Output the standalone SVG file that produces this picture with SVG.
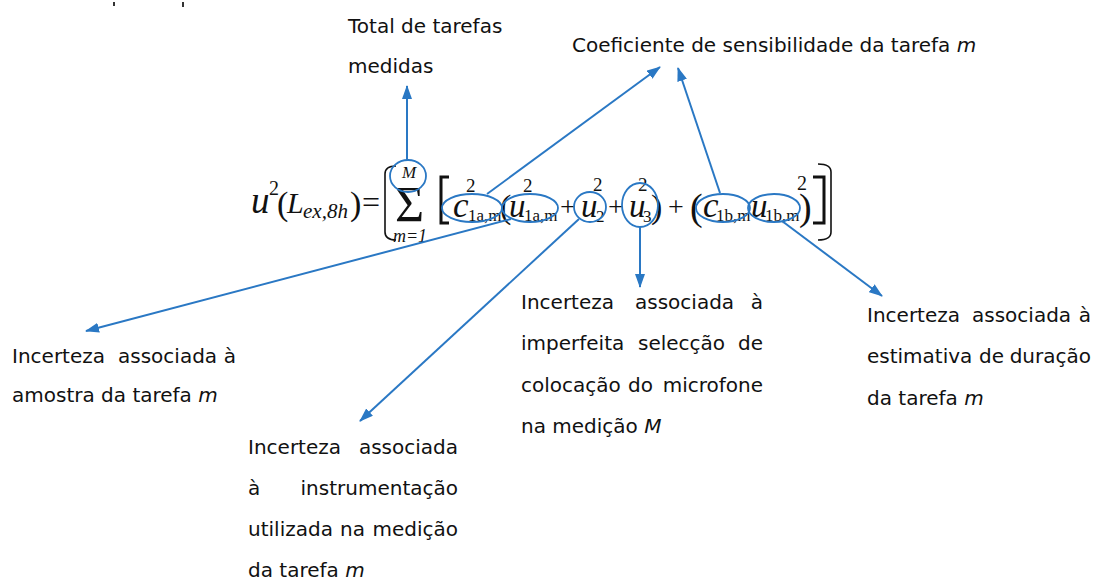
<svg xmlns="http://www.w3.org/2000/svg" width="1094" height="580" viewBox="0 0 1094 580">
<style>
.lbl{font-family:"DejaVu Sans","Verdana",sans-serif;font-size:20px;fill:#111}
.it{font-style:italic}
.m{font-family:"Liberation Serif","Times New Roman",serif;fill:#111}
.mi{font-family:"Liberation Serif","Times New Roman",serif;font-style:italic;fill:#111}
.ring{fill:none;stroke:#2A78C4;stroke-width:1.8}
.br{fill:none;stroke:#111;stroke-width:1.6}
.bk{fill:none;stroke:#111;stroke-width:3}
.con{stroke:#2A78C4;stroke-width:2;fill:none;marker-end:url(#ah)}
</style>
<defs>
<marker id="ah" viewBox="0 0 14 10" refX="13" refY="5" markerWidth="14" markerHeight="10" markerUnits="userSpaceOnUse" orient="auto">
<path d="M0,0 L14,5 L0,10 z" fill="#2A78C4"/>
</marker>
</defs>
<rect width="1094" height="580" fill="#fff"/>
<rect x="113" y="2" width="2" height="4" fill="#333"/>
<rect x="182" y="2" width="2" height="5" fill="#333"/>

<g id="formula">
<text class="mi" x="251" y="213" font-size="37">u</text>
<text class="m" x="269" y="195" font-size="20">2</text>
<text class="m" x="277" y="215" font-size="34">(</text>
<text class="mi" x="287" y="213" font-size="30">L</text>
<text class="mi" x="303" y="218" font-size="21">ex,8h</text>
<text class="m" x="350" y="215" font-size="34">)</text>
<text class="m" x="362" y="213" font-size="32">=</text>
<path class="br" d="M396 166 Q385 166 385 174 L385 232 Q385 240 396 240"/>
<text class="m" x="395" y="221" font-size="50">Σ</text>
<text class="mi" x="409" y="178" font-size="17" text-anchor="middle">M</text>
<text class="mi" x="410" y="242" font-size="18" text-anchor="middle">m=1</text>
<path class="bk" d="M449 177 L441 177 L441 223 L449 223"/>
<text class="mi" x="453" y="217" font-size="35">c</text>
<text class="m" x="468" y="221" font-size="17">1a,m</text>
<text class="m" x="466" y="192" font-size="19">2</text>
<text class="m" x="500" y="218" font-size="34">(</text>
<text class="mi" x="509" y="217" font-size="33">u</text>
<text class="m" x="524" y="221" font-size="17">1a,m</text>
<text class="m" x="523" y="192" font-size="19">2</text>
<text class="m" x="560" y="216" font-size="28">+</text>
<text class="mi" x="581" y="217" font-size="33">u</text>
<text class="m" x="596" y="222" font-size="17">2</text>
<text class="m" x="593" y="191" font-size="19">2</text>
<text class="m" x="608" y="216" font-size="28">+</text>
<text class="mi" x="629" y="217" font-size="33">u</text>
<text class="m" x="643" y="222" font-size="17">3</text>
<text class="m" x="638" y="191" font-size="19">2</text>
<text class="m" x="651" y="218" font-size="34">)</text>
<text class="m" x="668" y="216" font-size="28">+</text>
<text class="m" x="690" y="220" font-size="38">(</text>
<text class="mi" x="703" y="217" font-size="35">c</text>
<text class="m" x="716" y="221" font-size="17">1b,m</text>
<text class="mi" x="751" y="217" font-size="33">u</text>
<text class="m" x="765" y="221" font-size="17">1b,m</text>
<text class="m" x="799" y="220" font-size="38">)</text>
<text class="m" x="797" y="190" font-size="20">2</text>
<path class="bk" d="M813 177 L824 177 L824 223 L813 223"/>
<path class="br" d="M818 164 Q831 164 831 172 L831 232 Q831 240 818 240"/>
<ellipse class="ring" cx="408" cy="176" rx="18" ry="16"/>
<ellipse class="ring" cx="472" cy="208" rx="30" ry="14"/>
<ellipse class="ring" cx="530" cy="208" rx="28" ry="14"/>
<ellipse class="ring" cx="590" cy="207" rx="16" ry="15"/>
<ellipse class="ring" cx="640" cy="205" rx="18" ry="22"/>
<ellipse class="ring" cx="723" cy="208" rx="27" ry="14"/>
<ellipse class="ring" cx="774" cy="208" rx="26" ry="14"/>
</g>

<g id="connectors">
<line class="con" x1="407" y1="160" x2="407" y2="86"/>
<line class="con" x1="487" y1="194" x2="660" y2="67"/>
<line class="con" x1="720" y1="193" x2="678" y2="68"/>
<line class="con" x1="511" y1="219" x2="86" y2="331"/>
<line class="con" x1="579" y1="219" x2="360" y2="421"/>
<line class="con" x1="640" y1="227" x2="640" y2="287"/>
<line class="con" x1="782" y1="221" x2="882" y2="296"/>
</g>

<g id="total">
<text class="lbl" x="348" y="33">Total de tarefas</text>
<text class="lbl" x="348" y="73">medidas</text>
</g>

<g id="coef">
<text class="lbl" x="572" y="52">Coeficiente de sensibilidade da tarefa <tspan class="it">m</tspan></text>
</g>

<g id="amostra">
<text class="lbl" x="12" y="363">Incerteza</text>
<text class="lbl" x="118" y="363">associada</text>
<text class="lbl" x="236" y="363" text-anchor="end">à</text>
<text class="lbl" x="12" y="402">amostra da tarefa <tspan class="it">m</tspan></text>
</g>

<g id="instrumentacao">
<text class="lbl" x="248" y="454">Incerteza</text>
<text class="lbl" x="458" y="454" text-anchor="end">associada</text>
<text class="lbl" x="248" y="495">à</text>
<text class="lbl" x="458" y="495" text-anchor="end">instrumentação</text>
<text class="lbl" x="248" y="536">utilizada</text>
<text class="lbl" x="340" y="536">na</text>
<text class="lbl" x="458" y="536" text-anchor="end">medição</text>
<text class="lbl" x="248" y="577">da tarefa <tspan class="it">m</tspan></text>
</g>

<g id="microfone">
<text class="lbl" x="521" y="309">Incerteza</text>
<text class="lbl" x="635" y="309">associada</text>
<text class="lbl" x="763" y="309" text-anchor="end">à</text>
<text class="lbl" x="521" y="350">imperfeita</text>
<text class="lbl" x="638" y="350">selecção</text>
<text class="lbl" x="763" y="350" text-anchor="end">de</text>
<text class="lbl" x="521" y="392">colocação</text>
<text class="lbl" x="628" y="392">do</text>
<text class="lbl" x="763" y="392" text-anchor="end">microfone</text>
<text class="lbl" x="521" y="433">na medição <tspan class="it">M</tspan></text>
</g>

<g id="duracao">
<text class="lbl" x="867" y="322">Incerteza</text>
<text class="lbl" x="972" y="322">associada</text>
<text class="lbl" x="1091" y="322" text-anchor="end">à</text>
<text class="lbl" x="867" y="363">estimativa</text>
<text class="lbl" x="979" y="363">de</text>
<text class="lbl" x="1091" y="363" text-anchor="end">duração</text>
<text class="lbl" x="867" y="405">da tarefa <tspan class="it">m</tspan></text>
</g>
</svg>
